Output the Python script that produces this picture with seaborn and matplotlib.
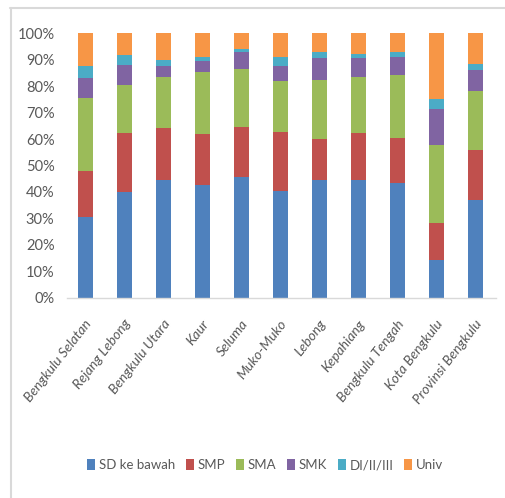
import numpy as np
import pandas as pd
import matplotlib
matplotlib.use("Agg")
import matplotlib.pyplot as plt
from matplotlib.lines import Line2D
from matplotlib.patches import Patch
from matplotlib.ticker import PercentFormatter
from matplotlib.transforms import ScaledTranslation
import seaborn as sns

categories = ["Bengkulu Selatan", "Rejang Lebong", "Bengkulu Utara", "Kaur", "Seluma",
              "Muko-Muko", "Lebong", "Kepahiang", "Bengkulu Tengah", "Kota Bengkulu",
              "Provinsi Bengkulu"]
levels = ["SD ke bawah", "SMP", "SMA", "SMK", "DI/II/III", "Univ"]

sd_ke_bawah = [30.4, 40.1, 44.6, 42.6, 45.8, 40.4, 44.6, 44.6, 43.4, 14.4, 37.1]
smp         = [17.5, 22.3, 19.5, 19.4, 18.8, 22.4, 15.3, 17.8, 17.0, 13.7, 18.6]
sma         = [27.8, 18.2, 19.5, 23.5, 21.8, 19.0, 22.3, 21.1, 24.0, 29.7, 22.5]
smk         = [7.5, 7.5, 4.2, 3.9, 6.7, 5.8, 8.5, 7.2, 6.6, 13.7, 7.8]
d123        = [4.4, 3.7, 2.0, 1.6, 1.1, 3.4, 2.4, 1.6, 2.1, 3.7, 2.5]
univ        = [12.4, 8.2, 10.2, 9.0, 5.8, 9.0, 6.9, 7.7, 6.9, 24.8, 11.5]

colors = ["#4f81bd", "#c0504d", "#9bbb59", "#8064a2", "#4bacc6", "#f79646"]

series = [sd_ke_bawah, smp, sma, smk, d123, univ]
df = pd.DataFrame({"Kabupaten": categories})
for lev, vals in zip(levels, series):
    df[lev] = np.array(vals, dtype=float)
tot = df[levels].sum(axis=1)
for lev in levels:
    df[lev] = df[lev] / tot
cum = df[levels].cumsum(axis=1)

sns.set_style("white")
plt.rcParams["font.family"] = ["Lato", "DejaVu Sans"]

fig = plt.figure(figsize=(5.05, 4.98), dpi=100)
ax = fig.add_axes([67 / 505, 1 - 297.7 / 498, 429 / 505, (297.7 - 33.3) / 498])

for lev, col in reversed(list(zip(levels, colors))):
    sns.barplot(x=df["Kabupaten"], y=cum[lev], order=categories, color=col,
                width=0.39, ax=ax, saturation=1, linewidth=0)

ax.set_xlim(-0.47, 10.52)
ax.set_ylim(0, 1)
ax.set_yticks(np.arange(0, 1.01, 0.1))
ax.yaxis.set_major_formatter(PercentFormatter(1.0, decimals=0))
ax.set_xlabel("")
ax.set_ylabel("")
for s in ["top", "right", "left"]:
    ax.spines[s].set_visible(False)
ax.spines["bottom"].set_color("#d9d9d9")
ax.spines["bottom"].set_linewidth(1.0)
ax.tick_params(axis="both", length=0, colors="#595959")
ax.tick_params(axis="y", pad=9, labelsize=10.5)
ax.tick_params(axis="x", pad=17, labelsize=10)
offset = ScaledTranslation(4 / 100, 0, fig.dpi_scale_trans)
for lab in ax.get_xticklabels():
    lab.set_rotation(52)
    lab.set_ha("right")
    lab.set_va("center")
    lab.set_rotation_mode("anchor")
    lab.set_fontstyle("italic")
    lab.set_transform(lab.get_transform() + offset)

handles = [Patch(facecolor=c, edgecolor="none") for c in colors]
fig.legend(handles, levels, loc="center", bbox_to_anchor=(0.525, 0.066), ncol=6,
           frameon=False, fontsize=9.5, handlelength=0.6, handleheight=0.85,
           handletextpad=0.3, columnspacing=0.8, labelcolor="#595959")

fig.add_artist(Line2D([10 / 505, 1.0], [1 - 8.5 / 498, 1 - 8.5 / 498], transform=fig.transFigure,
                      color="#d9d9d9", linewidth=1.5))
fig.add_artist(Line2D([10.5 / 505, 10.5 / 505], [0, 1 - 8.5 / 498], transform=fig.transFigure,
                      color="#d9d9d9", linewidth=1.5))

fig.savefig("out.png", dpi=100)
